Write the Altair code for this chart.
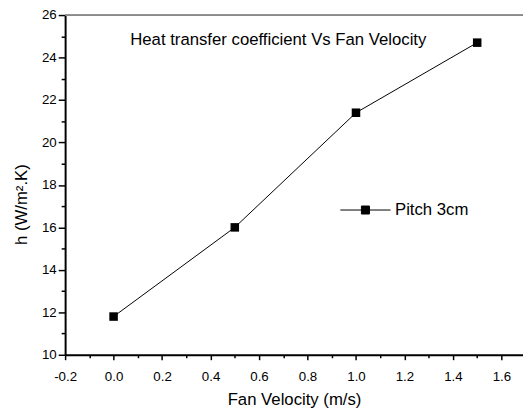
import altair as alt
import pandas as pd

# Data
velocity = [0.0, 0.5, 1.0, 1.5]
h_coeff = [11.8, 16.0, 21.4, 24.7]
series = ["Pitch 3cm"] * 4

x_major = [-0.2, 0.0, 0.2, 0.4, 0.6, 0.8, 1.0, 1.2, 1.4, 1.6]
x_minor = [-0.1, 0.1, 0.3, 0.5, 0.7, 0.9, 1.1, 1.3, 1.5]
y_major = [10, 12, 14, 16, 18, 20, 22, 24, 26]
y_minor = [11, 13, 15, 17, 19, 21, 23, 25]

df = pd.DataFrame({"v": velocity, "h": h_coeff, "s": series})

FONT = "Liberation Sans"
W, H = 465, 345
xdom = [-0.2, 1.689]
ydom = [10, 26]

xscale = alt.Scale(domain=xdom, nice=False, zero=False)
yscale = alt.Scale(domain=ydom, nice=False, zero=False)

legend_symbol = "M-1,0L1,0M-0.16,-0.16L0.16,-0.16L0.16,0.16L-0.16,0.16Z"

color = alt.Color(
    "s:N",
    scale=alt.Scale(range=["black"]),
    legend=alt.Legend(
        title=None,
        orient="none",
        legendX=279,
        legendY=172,
        symbolType=legend_symbol,
        symbolSize=2600,
        symbolFillColor="black",
        symbolStrokeColor="black",
        symbolStrokeWidth=1,
        labelFont=FONT,
        labelFontSize=17,
        labelColor="black",
        labelOffset=4,
        padding=0,
    ),
)

line = alt.Chart(df).mark_line(strokeWidth=1, color="black").encode(
    x=alt.X(
        "v:Q",
        scale=xscale,
        axis=alt.Axis(
            orient="bottom",
            values=x_major,
            format=".1f",
            labelExpr="replace(datum.label, '\u2212', '-')",
            labelFlush=False,
            title="Fan Velocity (m/s)",
            grid=False,
            domainColor="black",
            domainWidth=2,
            tickColor="black",
            tickWidth=1.5,
            tickSize=5,
            labelFont=FONT,
            labelFontSize=13.5,
            labelColor="black",
            labelPadding=10,
            titleFont=FONT,
            titleFontSize=17,
            titleFontWeight="normal",
            titleColor="black",
            titlePadding=9,
        ),
    ),
    y=alt.Y(
        "h:Q",
        scale=yscale,
        axis=alt.Axis(
            orient="left",
            values=y_major,
            format="d",
            labelFlush=False,
            title="h (W/m\u00b2.K)",
            grid=False,
            domainColor="black",
            domainWidth=2,
            tickColor="black",
            tickWidth=1.5,
            tickSize=7,
            labelFont=FONT,
            labelFontSize=13.5,
            labelColor="black",
            labelPadding=2,
            titleFont=FONT,
            titleFontSize=17,
            titleFontWeight="normal",
            titleColor="black",
            titlePadding=11,
            titleY=192,
        ),
    ),
    color=color,
)

points = alt.Chart(df).mark_point(shape="square", filled=True, size=75, opacity=1).encode(
    x=alt.X(
        "v:Q",
        scale=xscale,
        axis=alt.Axis(
            orient="bottom",
            values=x_minor,
            labels=False,
            title=None,
            grid=False,
            domain=False,
            tickColor="black",
            tickWidth=1.5,
            tickSize=3,
        ),
    ),
    y=alt.Y(
        "h:Q",
        scale=yscale,
        axis=alt.Axis(
            orient="left",
            values=y_minor,
            labels=False,
            title=None,
            grid=False,
            domain=False,
            tickColor="black",
            tickWidth=1.5,
            tickSize=4,
        ),
    ),
    color=color,
)

top_border = alt.Chart(df).mark_rule(color="#888888", strokeWidth=1).encode(
    x=alt.value(0), x2=alt.value(W), y=alt.value(0)
)

chart = (
    alt.layer(top_border, line, points)
    .resolve_axis(x="independent", y="independent")
    .properties(
        width=W,
        height=H,
        autosize=alt.AutoSizeParams(type="none"),
        padding={"left": 58, "top": 4, "right": 0, "bottom": 58},
        title=alt.TitleParams(
            text="Heat transfer coefficient Vs Fan Velocity",
            anchor="middle",
            frame="group",
            font=FONT,
            fontSize=17,
            fontWeight="normal",
            color="black",
            baseline="top",
            dx=-16,
            dy=45,
        ),
    )
    .configure_view(stroke=None)
    .configure(background="white")
)

chart.save("out.html", embed_options={"renderer": "svg", "actions": False})
